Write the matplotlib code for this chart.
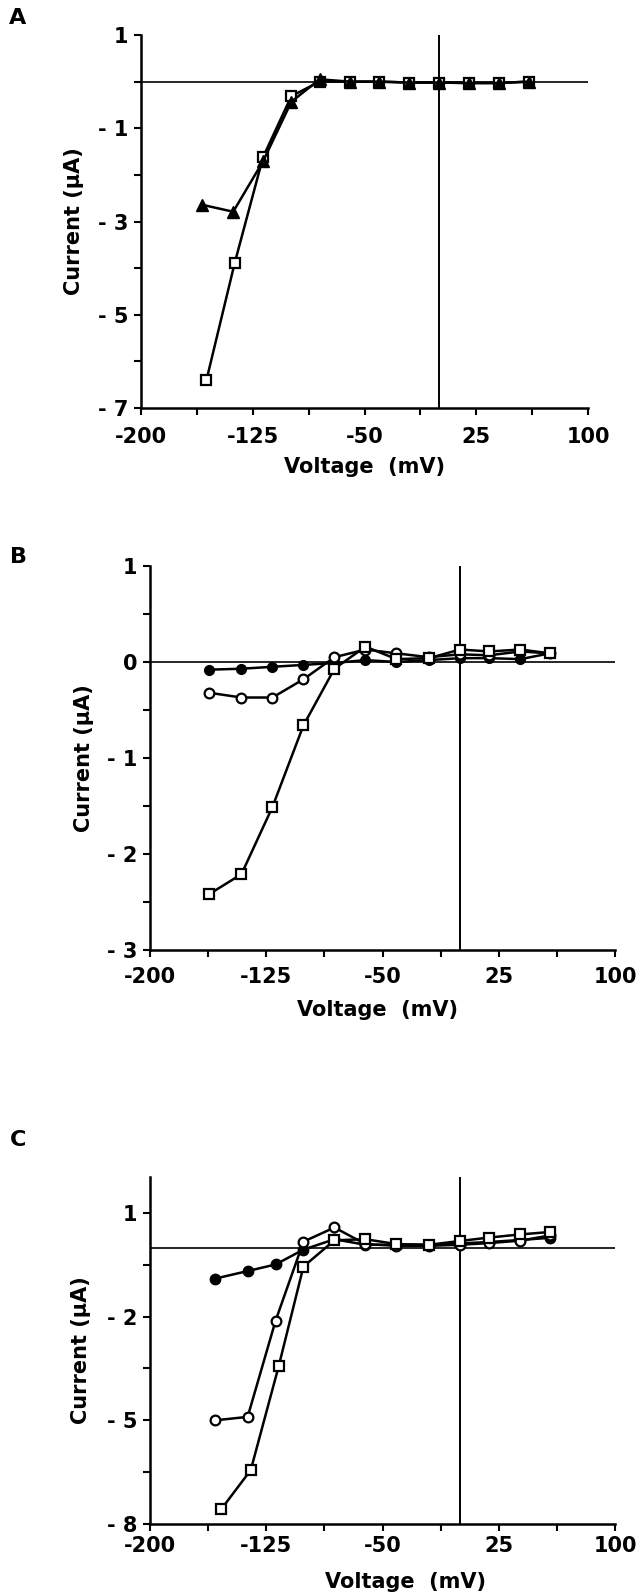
import numpy as np
import matplotlib
matplotlib.use("Agg")
import matplotlib.pyplot as plt

# --- data (voltage in mV, current in uA) ---
A_v_sq = [-156, -137, -118, -99, -80, -60, -40, -20, 0, 20, 40, 60]
A_i_sq = [-6.41, -3.89, -1.62, -0.31, 0.0, 0.0, 0.0, -0.02, -0.02, -0.03, -0.03, 0.0]
A_v_tri = [-159, -138, -118, -99, -80, -60, -40, -20, 0, 20, 40, 60]
A_i_tri = [-2.64, -2.79, -1.71, -0.43, 0.05, 0.0, 0.0, -0.02, -0.02, -0.03, -0.03, 0.0]

B_v = [-162, -141, -121, -101, -81, -61, -41, -20, 0, 19, 39, 58]
B_i_sq = [-2.42, -2.21, -1.51, -0.66, -0.07, 0.16, 0.03, 0.04, 0.13, 0.11, 0.13, 0.09]
B_i_open = [-0.32, -0.37, -0.37, -0.18, 0.05, 0.13, 0.09, 0.05, 0.08, 0.07, 0.11, 0.09]
B_i_fill = [-0.08, -0.07, -0.05, -0.03, -0.01, 0.02, 0.0, 0.02, 0.04, 0.04, 0.03, 0.09]

C_v = [-158, -137, -119, -101, -81, -61, -41, -20, 0, 19, 39, 58]
C_v_sq = [-154, -135, -117, -101, -81, -61, -41, -20, 0, 19, 39, 58]
C_i_sq = [-7.57, -6.44, -3.44, -0.55, 0.21, 0.24, 0.1, 0.08, 0.19, 0.29, 0.38, 0.45]
C_i_open = [-5.0, -4.9, -2.12, 0.17, 0.58, 0.1, 0.05, 0.05, 0.08, 0.13, 0.2, 0.35]
C_i_fill = [-0.9, -0.68, -0.49, -0.06, 0.24, 0.08, 0.08, 0.08, 0.12, 0.16, 0.22, 0.28]

x_major = [-200, -125, -50, 25, 100]
x_minor = [-162.5, -87.5, -12.5, 62.5]
x_labels = ["-200", "-125", "-50", "25", "100"]

A_yt = [1, -1, -3, -5, -7]
A_yt_minor = [0, -2, -4, -6]
B_yt = [1, 0, -1, -2, -3]
B_yt_minor = [0.5, -0.5, -1.5, -2.5]
C_yt = [1, -2, -5, -8]
C_yt_minor = [-0.5, -3.5, -6.5]

W, H = 641, 1596
plt.rcParams['font.family'] = ['DejaVu Sans']
plt.rcParams['font.weight'] = 'bold'
fig = plt.figure(figsize=(W / 100, H / 100), dpi=100)


def box(x0, x1, ytop, ybot):
    return [x0 / W, 1 - ybot / H, (x1 - x0) / W, (ybot - ytop) / H]


def ylab(v):
    if v < 0:
        return "- " + str(abs(v))
    return str(v)


def style(ax, ylim, yt, yt_minor, xpad, ylab_x, xlab_x, xlab_y):
    ax.set_xlim(-200, 100)
    ax.set_ylim(*ylim)
    for s in ['top', 'right']:
        ax.spines[s].set_visible(False)
    for s in ['left', 'bottom']:
        ax.spines[s].set_linewidth(1.8)
    ax.set_xticks(x_major)
    ax.set_xticklabels(x_labels)
    ax.set_xticks(x_minor, minor=True)
    ax.set_yticks(yt)
    ax.set_yticklabels([ylab(v) for v in yt])
    ax.set_yticks(yt_minor, minor=True)
    ax.tick_params(axis='both', which='both', direction='out', length=5, width=1.5)
    ax.tick_params(axis='x', which='major', labelsize=15, pad=xpad)
    ax.tick_params(axis='y', which='major', labelsize=15, pad=4)
    ax.axhline(0, color='k', lw=1.2, zorder=1)
    ax.axvline(0, color='k', lw=1.4, zorder=1)
    ax.set_xlabel("Voltage  (mV)", fontsize=15, fontweight='bold', va='center')
    ax.set_ylabel("Current (\u03bcA)", fontsize=15, fontweight='bold', va='center')
    ax.xaxis.set_label_coords(xlab_x, xlab_y)
    ax.yaxis.set_label_coords(ylab_x, 0.5)


line_kw = dict(color='k', lw=1.8)

# Panel A
axA = fig.add_axes(box(140.7, 588.3, 35, 408))
style(axA, (-7, 1), A_yt, A_yt_minor, 9, -0.149, 0.5, -0.157)
axA.plot(A_v_sq, A_i_sq, marker='s', ms=7, mfc='white', mec='k', mew=1.6, **line_kw)
axA.plot(A_v_tri, A_i_tri, marker='^', ms=8.5, mfc='k', mec='k', **line_kw)

# Panel B
axB = fig.add_axes(box(150, 615, 566, 950))
style(axB, (-3, 1), B_yt, B_yt_minor, 7, -0.142, 0.49, -0.156)
axB.plot(B_v, B_i_fill, marker='o', ms=7, mfc='k', mec='k', **line_kw)
axB.plot(B_v, B_i_open, marker='o', ms=7, mfc='white', mec='k', mew=1.6, **line_kw)
axB.plot(B_v, B_i_sq, marker='s', ms=7, mfc='white', mec='k', mew=1.6, **line_kw)

# Panel C
axC = fig.add_axes(box(150, 615, 1176.7, 1524))
style(axC, (-8, 2.05), C_yt, C_yt_minor, 4, -0.148, 0.55, -0.167)
axC.plot(C_v, C_i_fill, marker='o', ms=7.5, mfc='k', mec='k', **line_kw)
axC.plot(C_v, C_i_open, marker='o', ms=7, mfc='white', mec='k', mew=1.6, **line_kw)
axC.plot(C_v_sq, C_i_sq, marker='s', ms=7, mfc='white', mec='k', mew=1.6, **line_kw)

for letter, ypix in [("A", 18), ("B", 557), ("C", 1140)]:
    fig.text(18 / W, 1 - ypix / H, letter, fontsize=16, fontweight='bold',
             ha='center', va='center')

fig.savefig("out.png", dpi=100, facecolor='white')
